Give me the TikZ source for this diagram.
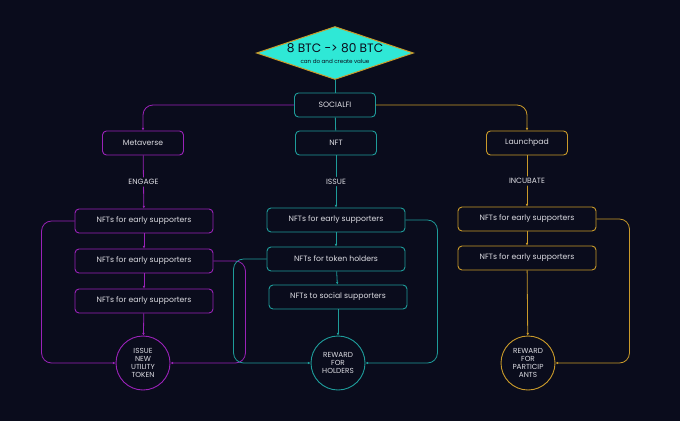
\documentclass[tikz,border=0pt]{standalone}
\usepackage{fontspec}
\setmainfont{Poppins}
\usepackage{xcolor}
\usetikzlibrary{arrows.meta,positioning,shapes.geometric}

\definecolor{bgnavy}{HTML}{0A0C1C}
\definecolor{metapurple}{HTML}{9A22B8}
\definecolor{nftteal}{HTML}{1E9C9A}
\definecolor{padgold}{HTML}{C99A2A}
\definecolor{gemcyan}{HTML}{2FE8D6}
\definecolor{txtgrey}{HTML}{DCDCE2}

\begin{document}
\begin{tikzpicture}[
      x=1pt, y=-1pt,
      >={Latex[length=2.6pt,width=2.6pt]},
      box/.style={draw, rounded corners=4pt, fill=bgnavy, text=txtgrey, line width=0.9pt,
        align=center, minimum width=138pt, minimum height=24pt, font=\fontsize{7.7}{8}\selectfont},
      smallbox/.style={box, minimum width=81pt},
      goal/.style={draw, circle, fill=bgnavy, text=txtgrey, line width=0.9pt, align=center,
        minimum size=54pt, inner sep=0pt, font=\fontsize{7.3}{8.2}\selectfont},
      flow/.style={->, line width=0.8pt, rounded corners=10pt},
      note/.style={fill=bgnavy, text=txtgrey, font=\fontsize{7.6}{8}\selectfont, inner sep=2pt}]
    \useasboundingbox[fill=bgnavy] (0,0) rectangle (680,421);

    % top
    \node[diamond, draw=padgold, fill=gemcyan, line width=1pt, aspect=2.95,
      minimum width=157pt, minimum height=53pt, inner sep=0pt] (gem) at (335,53) {};
    \node[text=bgnavy, font=\fontsize{12.2}{13}\selectfont] (gemtitle) at (335,48) {8 BTC -> 80 BTC};
    \node[text=bgnavy, font=\fontsize{5.6}{6}\selectfont] (gemsub) at (335,61) {can do and create value};
    \node[smallbox, draw=nftteal] (social) at (335,105) {SOCIALFI};
    \draw[line width=0.8pt, nftteal] (gem.south) -- (social.north);

    % branches
    \node[smallbox, draw=metapurple] (meta) at (143,143) {Metaverse};
    \node[smallbox, draw=nftteal] (nft) at (336,143) {NFT};
    \node[smallbox, draw=padgold] (pad) at (527,143) {Launchpad};
    \draw[flow, metapurple] (social.west) -| (meta.north);
    \draw[flow, padgold] (social.east) -| (pad.north);
    \draw[line width=0.8pt, nftteal] (social) -- (nft);

    % metaverse column
    \node[box, draw=metapurple] (m1) at (144,221) {NFTs for early supporters};
    \node[box, draw=metapurple] (m2) at (144,261) {NFTs for early supporters};
    \node[box, draw=metapurple] (m3) at (144,301) {NFTs for early supporters};
    \node[goal, draw=metapurple] (mtok) at (143,363) {ISSUE\\NEW\\UTILITY\\TOKEN};
    \draw[flow, metapurple] (meta) -- node[note] (engage) {ENGAGE} (m1);
    \draw[flow, metapurple] (m1) -- (m2);
    \draw[flow, metapurple] (m2) -- (m3);
    \draw[flow, metapurple] (m3) -- (mtok);
    \draw[flow, metapurple] (m1.west) -- ++(-33,0) |- (mtok.west);
    \draw[flow, metapurple] (m2.east) -- ++(32,0) |- (mtok.east);

    % nft column
    \node[box, draw=nftteal] (n1) at (336,220) {NFTs for early supporters};
    \node[box, draw=nftteal] (n2) at (336,259) {NFTs for token holders};
    \node[box, draw=nftteal] (n3) at (338,297) {NFTs to social supporters};
    \node[goal, draw=nftteal] (nhold) at (338,363) {REWARD\\FOR\\HOLDERS};
    \draw[flow, nftteal] (nft) -- node[note] (issue) {ISSUE} (n1);
    \draw[flow, nftteal] (n1) -- (n2);
    \draw[flow, nftteal] (n2) -- (n3);
    \draw[flow, nftteal] (n3) -- (nhold);
    \draw[flow, nftteal] (n1.east) -- ++(32,0) |- (nhold.east);
    \draw[flow, nftteal] (n2.west) -- ++(-33,0) |- (nhold.west);

    % launchpad column
    \node[box, draw=padgold] (p1) at (527,219) {NFTs for early supporters};
    \node[box, draw=padgold] (p2) at (527,258) {NFTs for early supporters};
    \node[goal, draw=padgold] (ppart) at (528,363) {REWARD\\FOR\\PARTICIP\\ANTS};
    \draw[flow, padgold] (pad) -- node[note] (incubate) {INCUBATE} (p1);
    \draw[flow, padgold] (p1) -- (p2);
    \draw[flow, padgold] (p2) -- (ppart);
    \draw[flow, padgold] (p1.east) -- ++(33,0) |- (ppart.east);
  \end{tikzpicture}
\end{document}
